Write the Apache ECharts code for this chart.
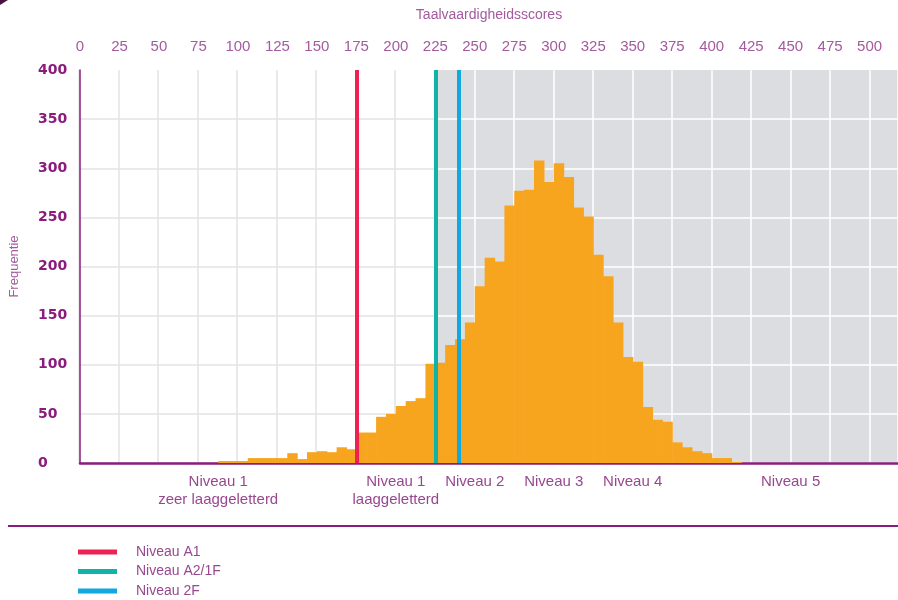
<!DOCTYPE html>
<html><head><meta charset="utf-8">
<script src="https://cdn.jsdelivr.net/npm/echarts@6/dist/echarts.min.js"></script>
<style>html,body{margin:0;padding:0;background:#fff}#c{width:898px;height:600px}</style>
</head><body><div id="c"></div>
<script>
// ---- data ----
const binWidth = 6.25;
const binStarts = [87.5, 93.75, 100, 106.25, 112.5, 118.75, 125, 131.25, 137.5, 143.75,
  150, 156.25, 162.5, 168.75, 175, 181.25, 187.5, 193.75, 200, 206.25,
  212.5, 218.75, 225, 231.25, 237.5, 243.75, 250, 256.25, 262.5, 268.75,
  275, 281.25, 287.5, 293.75, 300, 306.25, 312.5, 318.75, 325, 331.25,
  337.5, 343.75, 350, 356.25, 362.5, 368.75, 375, 381.25, 387.5, 393.75,
  400, 406.25, 412.5];
const frequencies = [2, 2, 2, 5, 5, 5, 5, 10, 4, 11,
  12, 11, 16, 14, 31, 31, 47, 50, 58, 63,
  66, 101, 102, 120, 126, 143, 180, 209, 205, 262,
  277, 278, 308, 286, 305, 291, 260, 251, 212, 190,
  143, 108, 103, 57, 44, 42, 21, 16, 12, 10,
  5, 5, 1];
const scoreTicks = [0, 25, 50, 75, 100, 125, 150, 175, 200, 225, 250, 275, 300, 325, 350, 375, 400, 425, 450, 475, 500];
const freqTicks = [0, 50, 100, 150, 200, 250, 300, 350, 400];
const levelNames = ['Niveau A1', 'Niveau A2/1F', 'Niveau 2F'];
const levelScores = [175, 225, 240];
const bandScores = [87.5, 200, 250, 300, 350, 450];
const bandLabels = ['Niveau 1\nzeer laaggeletterd', 'Niveau 1\nlaaggeletterd', 'Niveau 2', 'Niveau 3', 'Niveau 4', 'Niveau 5'];
const shadeFrom = 225;

// ---- styles / layout ----
const levelColors = ['#ee2153', '#10b4a6', '#0fa8df'];
const barColor = '#f7a51e';
const xMax = 518, yMax = 400;
const plotLeft = 79, plotRightPx = 898, plotTop = 70, plotBottom = 137;
const shadeLeft = plotLeft + (shadeFrom / xMax) * (plotRightPx - plotLeft);
const purple = '#8b1b7e', lightPurple = '#a45a9e', midPurple = '#98478f';
const font = "'Liberation Sans', Arial, sans-serif";

const chart = echarts.init(document.getElementById('c'), null, {renderer: 'canvas'});

function hiddenAxisBase(extra) {
  return Object.assign({
    type: 'value', axisLine: {show: false}, axisTick: {show: false}, axisLabel: {show: false}
  }, extra);
}
const hColorsGray = freqTicks.map((v, i) => i === freqTicks.length - 1 ? 'rgba(0,0,0,0)' : '#e3e3e3');
const hColorsWhite = freqTicks.map((v, i) => i === freqTicks.length - 1 ? 'rgba(0,0,0,0)' : '#ffffff');

const option = {
  animation: false,
  backgroundColor: '#ffffff',
  grid: [
    {left: plotLeft, right: 0, top: plotTop, bottom: plotBottom, show: false},
    {left: plotLeft, width: shadeLeft - plotLeft, top: plotTop, bottom: plotBottom, show: false},
    {left: shadeLeft, right: 0, top: plotTop, bottom: plotBottom, show: true, backgroundColor: '#dcdde0', borderWidth: 0}
  ],
  xAxis: [
    {
      gridIndex: 0, type: 'value', position: 'top', min: 0, max: xMax, interval: 25,
      name: 'Taalvaardigheidsscores', nameLocation: 'middle', nameGap: 48,
      nameTextStyle: {color: lightPurple, fontSize: 14, fontFamily: font},
      axisLine: {show: false}, axisTick: {show: false}, splitLine: {show: false},
      axisLabel: {color: lightPurple, fontSize: 15, fontFamily: font, margin: 16, showMaxLabel: false,
        formatter: v => scoreTicks.includes(v) ? String(v) : ''}
    },
    {
      gridIndex: 0, type: 'value', position: 'bottom', min: 0, max: xMax, interval: 12.5,
      axisLine: {show: true, lineStyle: {color: purple, width: 2.5}},
      axisTick: {show: false}, splitLine: {show: false},
      axisLabel: {color: midPurple, fontSize: 15, fontFamily: font, margin: 10, lineHeight: 18,
        showMaxLabel: false, showMinLabel: false,
        formatter: v => { const i = bandScores.indexOf(v); return i >= 0 ? bandLabels[i] : ''; }}
    },
    hiddenAxisBase({gridIndex: 1, min: 0, max: shadeFrom, interval: 25,
      splitLine: {show: true, lineStyle: {color: '#e3e3e3', width: 1.5}}}),
    hiddenAxisBase({gridIndex: 2, min: shadeFrom, max: xMax, interval: 25,
      splitLine: {show: true, lineStyle: {color: '#ffffff', width: 1.5}}})
  ],
  yAxis: [
    {
      gridIndex: 0, type: 'value', min: 0, max: yMax, interval: 50,
      name: 'Frequentie', nameLocation: 'middle', nameRotate: 90, nameGap: 59,
      nameTextStyle: {color: lightPurple, fontSize: 13, fontFamily: font},
      axisLine: {show: true, lineStyle: {color: purple, width: 1.5}},
      axisTick: {show: false}, splitLine: {show: false},
      axisLabel: {color: purple, fontSize: 14, fontWeight: 'bold', fontFamily: "'DejaVu Sans', sans-serif",
        align: 'left', margin: 42,
        formatter: v => freqTicks.includes(v) ? String(v) : ''}
    },
    hiddenAxisBase({gridIndex: 1, min: 0, max: yMax, interval: 50,
      splitLine: {show: true, lineStyle: {color: hColorsGray, width: 1.5}}}),
    hiddenAxisBase({gridIndex: 2, min: 0, max: yMax, interval: 50,
      splitLine: {show: true, lineStyle: {color: hColorsWhite, width: 1.5}}})
  ],
  legend: {
    data: levelNames, orient: 'vertical', left: 78, top: 545, padding: 0,
    icon: 'rect', itemWidth: 39, itemHeight: 5, itemGap: 5.5,
    textStyle: {color: midPurple, fontSize: 14, fontFamily: font, lineHeight: 14, padding: [0, 0, 0, 14]},
    selectedMode: false
  },
  graphic: [
    {type: 'line', shape: {x1: 8, y1: 526, x2: 898, y2: 526}, style: {stroke: purple, lineWidth: 2}},
    {type: 'polygon', shape: {points: [[0, 0], [8, 0], [0, 5]]}, style: {fill: '#4a1242'}}
  ],
  series: [
    {
      type: 'custom', name: 'Frequentie', xAxisIndex: 0, yAxisIndex: 0, z: 3,
      data: binStarts.map((s, i) => [s, frequencies[i]]),
      renderItem: (params, api) => {
        const x0 = api.value(0), h = api.value(1);
        const pTop = api.coord([x0, h]);
        const pBot = api.coord([x0 + binWidth, 0]);
        return {type: 'rect',
          shape: {x: pTop[0], y: pTop[1], width: pBot[0] - pTop[0] + 0.6, height: pBot[1] - pTop[1]},
          style: {fill: barColor}};
      }
    }
  ].concat(levelNames.map((n, i) => ({
    type: 'line', name: n, xAxisIndex: 0, yAxisIndex: 0, data: [], z: 5,
    color: levelColors[i], itemStyle: {color: levelColors[i]},
    markLine: {
      silent: true, symbol: 'none', label: {show: false},
      lineStyle: {color: levelColors[i], width: 4, type: 'solid'},
      data: [{xAxis: levelScores[i]}]
    }
  })))
};
chart.setOption(option);
</script>
</body></html>
